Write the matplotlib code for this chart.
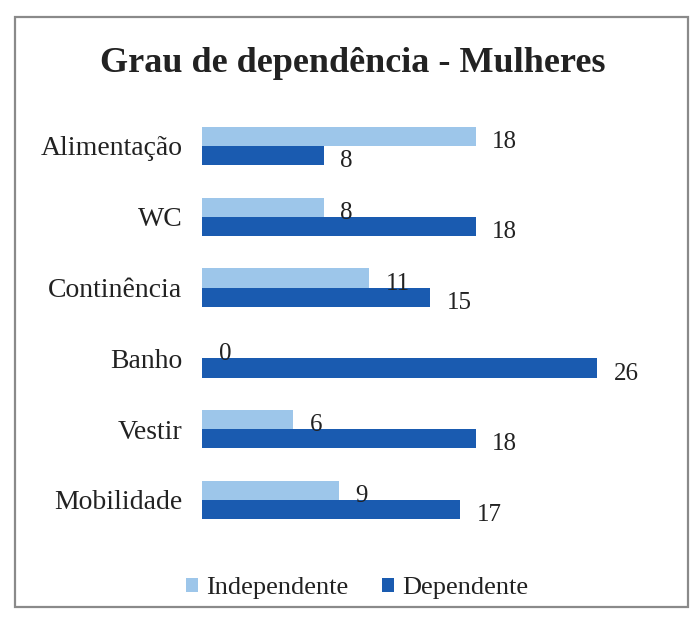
import matplotlib
matplotlib.use("Agg")
import matplotlib.pyplot as plt
from matplotlib.patches import Rectangle
import numpy as np

categories = ["Alimentação", "WC", "Continência", "Banho", "Vestir", "Mobilidade"]
independente = [18, 8, 11, 0, 6, 9]
dependente = [8, 18, 15, 26, 18, 17]
series_names = ["Independente", "Dependente"]

plt.rcParams['font.family'] = ['Liberation Serif', 'DejaVu Serif']

W, H = 696, 621
fig = plt.figure(figsize=(W / 100, H / 100), dpi=100)
fig.patch.set_facecolor("white")

# outer frame
fig.patches.append(Rectangle((15 / W, 1 - 607 / H), (688 - 15) / W, (607 - 17) / H,
                             transform=fig.transFigure, fill=False,
                             edgecolor="#8a8a8a", linewidth=1.6))

ax_left = 202 / W
ax_width = 30 * 15.2 / W
px_unit = 70.8
ax_bottom = 1 - (500 + 0.7 * px_unit) / H
ax_height = 6.4 * px_unit / H
ax = fig.add_axes([ax_left, ax_bottom, ax_width, ax_height])

n = len(categories)
y = np.arange(n)[::-1]  # first category at top
h = 0.27
light = "#9DC6EA"
dark = "#1A5BB0"

b1 = ax.barh(y + h / 2, independente, height=h, color=light, label=series_names[0])
b2 = ax.barh(y - h / 2, dependente, height=h, color=dark, label=series_names[1])

for bars in (b1, b2):
    anns = ax.bar_label(bars, padding=11, fontsize=18, color="#222222")
    for a in anns:
        a.xyann = (12, -4)

ax.set_xlim(0, 30)
ax.set_ylim(-0.7, n - 1 + 0.7)
ax.set_yticks(y)
ax.set_yticklabels(categories, fontsize=20, color="#222222")
ax.tick_params(axis="y", length=0, pad=14)
ax.set_xticks([])
for s in ax.spines.values():
    s.set_visible(False)

fig.text(353 / W, 1 - 64 / H, "Grau de dependência - Mulheres", ha="center", va="center",
         fontsize=26, fontweight="bold", color="#222222")

fig.legend(handles=[b1, b2], labels=series_names, loc="center",
           bbox_to_anchor=(357 / W, 1 - 588 / H), ncol=2, frameon=False,
           fontsize=19, handlelength=0.45, handleheight=0.45, handletextpad=0.3,
           columnspacing=1.3, labelcolor="#222222")

fig.savefig("out.png", dpi=100)
